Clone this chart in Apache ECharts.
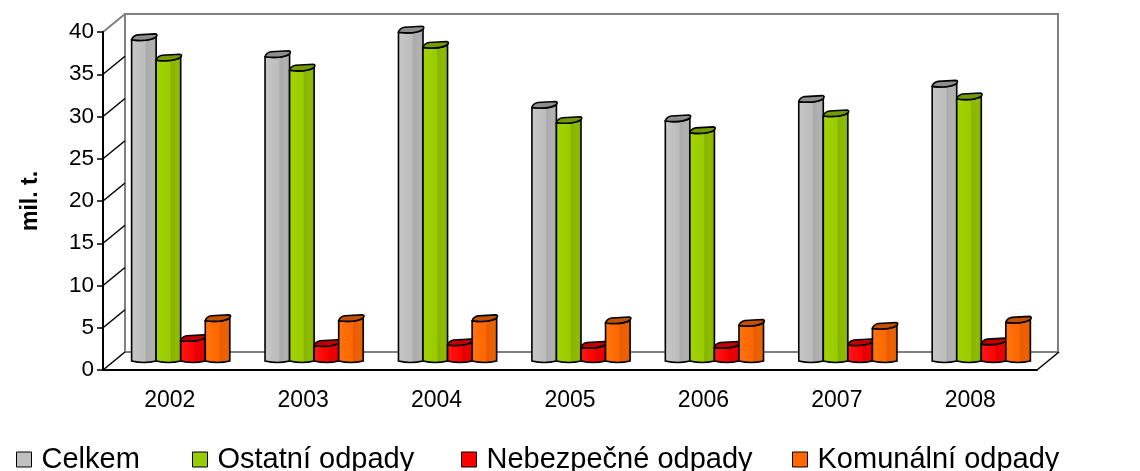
<!DOCTYPE html>
<html><head><meta charset="utf-8">
<script src="https://cdn.jsdelivr.net/npm/echarts@6/dist/echarts.min.js"></script>
<style>html,body{margin:0;padding:0;background:#fff}#c{width:1140px;height:471px}</style>
</head><body><div id="c"></div>
<script>
const years = ['2002','2003','2004','2005','2006','2007','2008'];
const celkem = [38.0, 36.0, 38.9, 30.0, 28.4, 30.7, 32.5];
const ostatni = [35.6, 34.4, 37.1, 28.2, 27.0, 29.0, 31.0];
const nebezpecne = [2.4, 1.8, 1.9, 1.6, 1.6, 1.9, 2.0];
const komunalni = [4.76, 4.76, 4.75, 4.5, 4.2, 3.85, 4.57];
const yTicks = [0, 5, 10, 15, 20, 25, 30, 35, 40];
const seriesNames = ['Celkem', 'Ostatní odpady', 'Nebezpečné odpady', 'Komunální odpady'];

const FONT = "'Liberation Sans', Arial, sans-serif";
const styles = [
  {face:['#c8c8c8','#bcbcbc','#aaaaaa','#b2b2b2','#a2a2a2'], cap:'#8e8e8e', legend:'#c0c0c0'},
  {face:['#a2d400','#99cc00','#88b400','#8ebc00','#80a800'], cap:'#759a00', legend:'#99cc00'},
  {face:['#ff1a1a','#ff0000','#e60000','#ec0000','#d80000'], cap:'#c00000', legend:'#ff0000'},
  {face:['#ff7410','#ff6600','#e65c00','#ee6200','#d85600'], cap:'#c25000', legend:'#ff6600'}
];
const offsets = [-1.5, -0.5, 0.5, 1.5];
const DX = 22, DY = 18;

function barRenderer(k){
  return function(params, api){
    const c = api.value(0), v = api.value(1);
    const top = api.coord([c, v]);
    const base = api.coord([c, 0]);
    const bw = api.size([1, 0])[0] * 0.184;
    const x0 = top[0] + offsets[k]*bw - bw/2, x1 = x0 + bw;
    const yT = top[1], yB = base[1];
    const xm = (x0 + x1)/2;
    const st = styles[k];
    const grad = new echarts.graphic.LinearGradient(0,0,1,0,[
      {offset:0,color:st.face[0]},{offset:0.55,color:st.face[1]},
      {offset:0.6,color:st.face[2]},{offset:0.85,color:st.face[3]},{offset:1,color:st.face[4]}]);
    const face = 'M'+x0+','+yT+' L'+x0+','+yB+' Q'+xm+','+(yB+3)+' '+x1+','+yB+
      ' L'+x1+','+(yT-3)+' Q'+(x1-7)+','+(yT+2)+' '+x0+','+yT+' Z';
    const cap = 'M'+x0+','+yT+' Q'+(x0+1)+','+(yT-4)+' '+(x0+6)+','+(yT-5)+
      ' L'+(x1-1)+','+(yT-6)+' Q'+(x1+2)+','+(yT-5.5)+' '+x1+','+(yT-3)+
      ' Q'+(x1-7)+','+(yT+2)+' '+x0+','+yT+' Z';
    return {type:'group', children:[
      {type:'path', shape:{pathData:face}, style:{fill:grad, stroke:'#000', lineWidth:1.6}},
      {type:'path', shape:{pathData:cap}, style:{fill:st.cap, stroke:'#000', lineWidth:1.6}}
    ]};
  };
}

const chart = echarts.init(document.getElementById('c'), null, {renderer:'canvas'});
const datas = [celkem, ostatni, nebezpecne, komunalni];
const series = datas.map((arr,k)=>({
  name: seriesNames[k], type:'custom', xAxisIndex:1, yAxisIndex:1, z:5,
  itemStyle:{color: styles[k].legend},
  renderItem: barRenderer(k),
  data: arr.map((v,i)=>[i,v])
}));
// side-wall gridlines from the front value axis to the back wall
series.push({
  type:'custom', xAxisIndex:0, yAxisIndex:0, z:3, silent:true,
  data: yTicks.map(t=>[0,t]),
  renderItem: function(params, api){
    const p = api.coord([0, api.value(1)]);
    const x = params.coordSys.x;
    const isTop = api.value(1) === yTicks[yTicks.length-1];
    return {type:'line', shape:{x1:x, y1:p[1], x2:x+DX, y2:p[1]-DY},
      style:{stroke: isTop ? '#808080' : '#000', lineWidth: isTop ? 2 : 1.5}};
  }
});
// floor right edge
series.push({
  type:'custom', xAxisIndex:0, yAxisIndex:0, z:3, silent:true,
  data: [[years.length-1, 0]],
  renderItem: function(params, api){
    const p = api.coord([0, 0]);
    const x = params.coordSys.x + params.coordSys.width;
    return {type:'line', shape:{x1:x, y1:p[1], x2:x+DX, y2:p[1]-DY},
      style:{stroke:'#000', lineWidth:1.5}};
  }
});

const legendLefts = [11, 187, 456, 787];
const option = {
  animation:false,
  backgroundColor:'#fff',
  textStyle:{fontFamily:FONT},
  grid:[
    {left:103, top:32, width:934, height:338},
    {left:114, top:23, width:934, height:338},
    {left:125, top:14, width:933, height:338, show:true, borderColor:'#808080', borderWidth:2, backgroundColor:'transparent', z:1}
  ],
  xAxis:[
    {gridIndex:0, type:'category', data:years,
     axisLine:{lineStyle:{color:'#000', width:2}},
     axisTick:{length:6, lineStyle:{color:'#000', width:1.5}},
     axisLabel:{color:'#000', fontSize:23, margin:19, fontFamily:FONT}, z:6},
    {gridIndex:1, type:'category', data:years, show:false},
    {gridIndex:2, type:'category', data:years, show:false}
  ],
  yAxis:[
    {gridIndex:0, type:'value', min:0, max:40, interval:5,
     name:'mil. t.', nameLocation:'middle', nameRotate:90, nameGap:61,
     nameTextStyle:{color:'#000', fontSize:23, fontWeight:'bold', fontFamily:FONT},
     axisLine:{show:true, lineStyle:{color:'#000', width:2}},
     axisTick:{show:true, length:6, lineStyle:{color:'#000', width:1.5}},
     axisLabel:{color:'#000', fontSize:22.5, margin:9, fontFamily:FONT},
     splitLine:{show:false}, z:6},
    {gridIndex:1, type:'value', min:0, max:40, interval:5, show:false, splitLine:{show:false}},
    {gridIndex:2, type:'value', min:0, max:40, interval:5, show:false, splitLine:{show:false}}
  ],
  legend: seriesNames.map((n,k)=>({
    left: legendLefts[k], top: 440, itemWidth:15, itemHeight:15, icon:'rect',
    selectedMode:false,
    textStyle:{color:'#000', fontSize:29, fontFamily:FONT, padding:[0,0,0,5]},
    data:[{name:n, itemStyle:{color:styles[k].legend, borderColor:'#000', borderWidth:1}}]
  })),
  series: series
};
chart.setOption(option);
</script></body></html>
